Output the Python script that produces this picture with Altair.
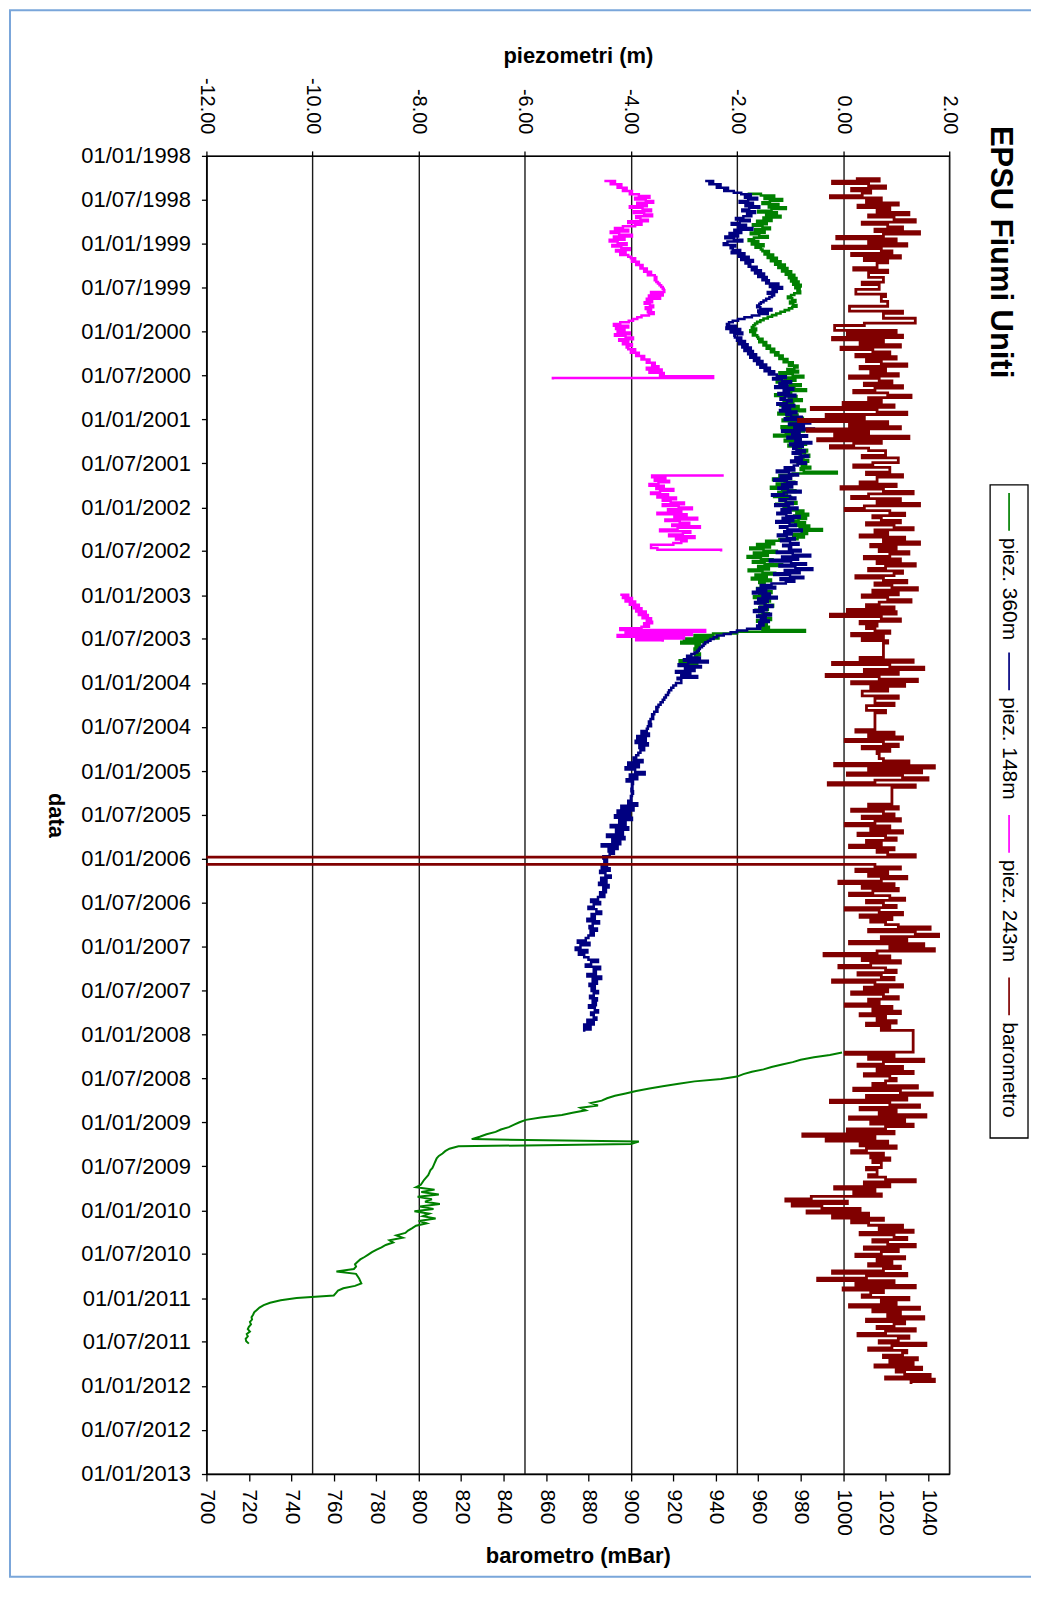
import altair as alt
import pandas as pd

FONT = "Liberation Sans"
W, H = 745, 1322

TITLE = "EPSU Fiumi Uniti"
SERIES = ["piez. 360m", "piez. 148m", "piez. 243m", "barometro"]
COLORS = ["#008000", "#000080", "#FF00FF", "#800000"]
PIEZO_TICKS = [-12, -10, -8, -6, -4, -2, 0, 2]
BARO_TICKS = [700, 720, 740, 760, 780, 800, 820, 840, 860, 880, 900, 920, 940,
              960, 980, 1000, 1020, 1040]
DATE_TICKS = ["1998-01", "1998-07", "1999-01", "1999-07", "2000-01", "2000-07",
              "2001-01", "2001-07", "2002-01", "2002-07", "2003-01", "2003-07",
              "2004-01", "2004-07", "2005-01", "2005-07", "2006-01", "2006-07",
              "2007-01", "2007-07", "2008-01", "2008-07", "2009-01", "2009-07",
              "2010-01", "2010-07", "2011-01", "2011-07", "2012-01", "2012-07",
              "2013-01"]

# ---------------- barometro (mBar), a reading every 10 days; None = no reading
baro_start = "1998-04-06"
baro_step = 10
baro_values = [
    1006, 1017, 995, 1012, 1020, 1004, 1013, 1009, 994,
    1018, 1011, 1026, 1007, 1022, 1016, 1031, 1012, 1024, 1034, 1009, 1021, 1028, 1015, 1036, 1019, 997, 1025,
    1012, 1030, 995, 1018, 1023, 1004, 1027, 1010, 1021,
    None, 1016, 1005, 1021, None, 1012, None, 1019, 1009, None, 1017, None, 1006, 1020, None, 1018, None, 1021,
    None, 1003, 1028, None, 1019, None, 1034, 1010, None,
    996, 1025, 1002, 1028, 995, 1019, 1008, 1027, 999,
    1014, 1022, 1006, 1025, 1011, 1018, 1030, 1008, 1020, 1013, 1026, 1003, 1017, 1023, 1010, 1028, 1015, 1005,
    1021, 1032, 1012, 1018,
    1000, 1024, 985, 1016, 1030, 992, 1010, 979, 1021, 1003, 1027, 983, 1012, 996, 1031, 988, 1018, 1005, 994,
    1012, None, 1020, 1009, None, 1026, 1014, 1005, None, 1022, 1011, 1028, None, 1016,
    1008, 1025, 999, 1019, 1033, 1012, 1004, 1027, 1016, 1036, 1010, 1001, 1022, 1029, 1014,
    1018, 1027, 1011, 1024, 1033, 1015, 1021, 1008, 1029, 1019, 1036, 1013, 1025, 1017, 1031, 1022, 1010, 1027,
    1016, 1034, 1020, 1012, 1028, 1024, 1006, 1019, 1030, 1015, 1023, 1035, 1014, 1026, 1009, 1021, 1032, 1017,
    1011, 1024,
    1002, 1025, 994, 1018, 1027, 1008, 1016, 1011,
    1015, 1022, 1004, 1019, 1009, 1021, 1019,
    None, None, None, None, 1019,
    1008, 1033, 995, 1022, 1038, 1010, 1026, 992, 1017, 1035, 1004, 1029, 1013,
    1021, None, 1009, 1026, None, 1015, 1024, None, 1011, 1020, 1015,
    None, None, None, None, None, 1015,
    1006, 1024, 1012, 1028, 1001, 1019, 1026, 1009, 1022, 1016, None,
    1017, 1019,
    1031, 996, 1043, 1012, 1037, 1002, 1028, 1040, 1015, 993, 1034,
    1023, None, None, None, None, None, 1023,
    1012, 1026, 1004, 1019, 1024, 1009, 1027, 1015, 1001, 1022, 1013, 1028, 1007, 1020, 1025, 1011, 1018, 1003,
    1024, 1016, 1021,
    1034, None, None, 0,
    1015, 1027, 1006, 1021, 1012, 1030, 1018, 998, 1024, 1009, 1026, 1014, 1003, 1022, 1029, 1011, 1019, 1025,
    1001, 1017, 1028, 1008, 1023, 1013, 1020,
    1026, 1041, 1012, 1034, 1045, 1018, 1030, 1003, 1038, 1022, 1043,
    1016, 991, 1022, 1009, 1027, 1013, 998, 1020, 1025, 1007, 1018, 1024, 995, 1015, 1028, 1010, 1021, 1004,
    1019, 1026, 1012, 1017, 1001, 1023, 1014, 1027, 1008, 1020, 1016, 1025, 1011, 1022, 1018,
    1033, None, None, None, None, None, None, None, 1033,
    1001, 1024, 1012, 1038, 1019, 1007, 1028, 1016, 1033, 1010, 1022, 1025, 1020,
    1014, 1035, 1005, 1027, 1042, 1011, 1030, 994, 1022, 1036, 1008, 1025, 1017, 1039, 1003, 1029, 1013, 1033,
    1020, 1002, 1024, 981, 1015, 992, 1021, 1008, 1025, 1011, 1004, 1019, 1013, 1022,
    1014, None, 1018, 1011, None, 1016, 1012, 1020,
    1034, 1010, 1022, 996, 1015, 1005, 1018, 985, 973, 1002, 976, 990, 1008, 983, 1012, 995, 1019, 1004,
    1012, 1028, 1017, 1033, 1008, 1024, 1030, 1014, 1021, 1034, 1010, 1026, 1018, 1006, 1029, 1016, 1023, 1012,
    1027, 1019,
    995, 1030, 1011, 988, 1024, 1006, 1034, 1000, 1019, 1013,
    1009, 1031, 1018, 1025, 1003, 1036, 1014, 1027, 1021, 1038, 1011, 1029, 1024, 1016, 1034, 1020, 1007, 1031,
    1026, 1017, 1039, 1023, 1012, 1030, 1028, 1019, 1035, 1022, 1033, 1015, 1037, 1025, 1029, 1041, 1020, 1043,
    1032,
]

# ---------------- piez. 360m (m)
green1_start, green1_step = "1998-06-08", 7
green1_values = [
    -1.80, -1.55, -1.30, -1.48, -1.15, -1.38, -1.52, -1.22, -1.40, -1.08, -1.35, -1.60, -1.25, -1.45, -1.18,
    -1.50, -1.35, -1.62, -1.44, -1.70, -1.52, -1.38, -1.66, -1.48, -1.74, -1.58, -1.42, -1.68, -1.78, -1.60,
    -1.72, -1.50, -1.65, -1.55,
    -1.52, -1.40, -1.48, -1.32, -1.42, -1.25, -1.36, -1.18, -1.28, -1.10, -1.22, -1.05, -1.15, -0.98, -1.08,
    -0.92, -1.02, -0.88, -0.98, -0.84, -0.94, -0.80, -0.90, -0.82, -0.86, -0.81,
    -0.92, -0.98, -1.04, -0.96, -0.90, -1.00, -0.94, -0.88, -0.96, -1.02,
    -1.10, -1.18, -1.26, -1.34, -1.42, -1.50, -1.56, -1.62, -1.66, -1.69,
    -1.72, -1.64, -1.75, -1.66, -1.70, -1.62,
    -1.60, -1.52, -1.58, -1.45, -1.50, -1.38, -1.44, -1.30, -1.36, -1.22, -1.28, -1.14, -1.20, -1.05, -1.12,
    -0.95, -1.02, -0.86, -0.92,
    -1.05, -0.85, -1.20, -0.95, -0.75, -1.10, -0.90, -1.25, -1.00, -0.80, -1.15, -0.92, -0.70, -1.08, -0.98,
    -1.28, -0.88, -1.02, -0.78, -1.12, -0.94, -1.18, -0.84, -1.04, -0.72, -0.96, -1.22, -0.86, -1.06, -0.76,
    -1.14, -0.90, -1.00, -0.82, -1.16, -0.93, -0.74, -1.08, -0.88, -1.30, -0.97, -0.80, -1.10, -0.91, -0.70,
    -1.03, -0.85,
    -0.80, -0.68, -0.85, -0.72, -0.64, -0.82, -0.75, -0.66, -0.86, -0.70, -0.78, -0.62, -0.80, -0.74,
    -0.12,
    -0.95, -1.20, -1.05, -1.32, -1.10, -0.92, -1.25, -1.00, -1.36, -1.15, -0.90, -1.22, -1.06, -1.30, -0.98,
    -1.18, -1.08, -0.88, -1.26, -1.02, -1.12,
    -0.95, -0.75, -0.88, -0.66, -0.92, -0.70, -0.84, -1.00, -0.72, -0.90, -0.64, -0.82, -0.40, -0.78, -0.68,
    -0.94, -0.74, -0.86,
    -1.20, -1.45, -1.30, -1.62, -1.38, -1.75, -1.50, -1.25, -1.68, -1.42, -1.80, -1.55, -1.33, -1.70, -1.48,
    -1.15, -1.60, -1.40, -1.78, -1.52, -1.28, -1.65, -1.44, -1.72, -1.36, -1.58, -1.48,
    -1.55, -1.40, -1.62, -1.48, -1.35, -1.58, -1.45, -1.68, -1.50, -1.38, -1.60, -1.46, -1.32, -1.56, -1.42,
    -1.65, -1.52, -1.40, -1.58, -1.48, -1.36, -1.62, -1.50, -1.44, -1.56, -1.40, -1.52,
    -0.72,
    -2.00, -2.45, -2.80, -2.35, -3.00, -2.55, -3.05, -2.70,
    -2.78, -2.72, -2.80, -2.74, -2.76, -2.70, -2.79, -2.75,
    -2.90, -3.08, -2.75, -3.02, -2.95,
]
green2_start, green2_step = "2008-03-16", 10
green2_values = [
    -0.02, -0.25, -0.55, -0.80, -0.95, -1.15, -1.35, -1.50, -1.72, -1.88,
    -2.00, -2.30, -2.80, -3.10, -3.40, -3.65, -3.90, -4.10, -4.30, -4.45,
    -4.55, -4.75, -4.62, -4.95, -4.85, -5.10, -5.30, -5.70, -5.98, -6.10,
    -6.20, -6.30, -6.45, -6.55, -6.72, -6.85, -7.00, -3.85, -4.00, -7.25,
    -7.42, -7.50, -7.55, -7.62, -7.66, -7.68, -7.70, -7.72, -7.74, -7.78,
    -7.80, -7.82, -7.86, -7.90, -7.93, -7.96, -8.05, -7.70, -7.95, -7.62,
    -8.02, -7.75, -7.88, -7.60, -7.98, -7.72, -8.08, -7.80, -7.92, -7.68,
    -8.00, -7.85, -8.05, -8.12, -8.20, -8.25, -8.42, -8.30, -8.55, -8.48,
    -8.62, -8.70, -8.80, -8.88, -8.95, -9.02, -9.10, -9.15, -9.20, -9.18,
    -9.22, -9.55, -9.18, -9.15, -9.12, -9.10, -9.08, -9.20, -9.42, -9.52,
    -9.56, -9.60, -10.30, -10.60, -10.80, -10.92, -11.00, -11.05, -11.10, -11.12,
    -11.15, -11.14, -11.18, -11.16, -11.20, -11.22, -11.18, -11.24, -11.22, -11.26,
    -11.25, -11.20,
]

# ---------------- piez. 148m (m)
blue1_start, blue1_step = "1998-04-15", 7
blue1_values = [
    -2.60, -2.45, -2.52, -2.31, -2.38, -2.17, -2.24, -2.06,
    -1.92, -1.74, -1.85, -1.62, -1.79, -1.95, -1.70, -1.84, -1.58, -1.77, -1.90, -1.66, -1.81, -1.73,
    -1.88, -2.02, -1.76, -1.95, -2.10, -1.83, -1.98, -1.71, -2.05, -1.92,
    -2.14, -1.98, -2.22, -2.06, -1.90, -2.18, -2.25, -2.03, -2.12,
    -2.08, -1.94, -2.10, -1.86, -1.97, -1.78, -1.92, -1.70, -1.84, -1.75,
    -1.78, -1.63, -1.72, -1.55, -1.66, -1.49, -1.60, -1.44, -1.52, -1.40,
    -1.45, -1.22, -1.38, -1.15, -1.33, -1.25, -1.42, -1.30,
    -1.34, -1.39, -1.45, -1.50, -1.55, -1.58, -1.62, -1.56,
    -1.35, -1.60, -1.42, -1.58,
    -1.72, -1.86, -1.98, -2.08, -2.15, -2.19,
    -2.02, -2.20, -1.94, -2.12, -1.90, -2.05,
    -2.04, -1.92, -2.00, -1.85, -1.96, -1.80, -1.90, -1.74, -1.86, -1.70, -1.79, -1.64, -1.75, -1.58, -1.68,
    -1.52, -1.62, -1.45, -1.56, -1.38, -1.48, -1.30, -1.40,
    -1.25, -1.08, -1.32, -1.15, -0.98, -1.20, -1.05, -1.28, -0.94, -1.12, -1.02, -1.22, -0.90, -1.10, -1.18,
    -0.97, -1.06, -1.24, -0.92, -1.14, -1.00, -1.19, -0.88, -1.07,
    -0.98, -0.78, -1.10, -0.86, -0.62, -1.02, -0.74, -0.92, -0.55, -1.15, -0.82, -0.96, -0.68, -1.05, -0.80,
    -0.90, -0.60, -1.00, -0.76, -0.94,
    -0.88, -0.72, -0.95, -0.80, -0.66, -0.90, -0.78, -0.98, -0.70, -0.85, -0.93,
    -1.10, -0.92, -1.25, -1.02, -0.85, -1.18, -0.98, -1.30, -1.06, -0.88, -1.15, -0.96, -1.22, -1.04, -0.80,
    -1.12, -1.34, -1.00, -0.90, -1.20, -1.08, -0.95, -1.28, -1.03, -0.86, -1.16, -0.99, -1.24, -1.07, -0.82,
    -1.14, -0.94, -1.26, -1.01, -0.89, -1.19, -1.05, -0.78, -1.11, -0.97, -1.23, -1.06, -0.91, -1.17, -1.00,
    -0.84, -1.13, -0.98,
    -1.02, -0.80, -1.25, -0.95, -0.62, -1.15, -0.85, -1.38, -0.98, -0.70, -1.20, -0.90, -0.58, -1.10, -0.82,
    -1.30, -1.00, -0.75, -1.18, -0.92, -1.08,
    -1.35, -1.55, -1.28, -1.62, -1.45, -1.70, -1.38, -1.52, -1.25, -1.60, -1.42, -1.66, -1.48, -1.33, -1.58,
    -1.44, -1.68, -1.50, -1.36, -1.62, -1.46, -1.55, -1.40, -1.58,
    -1.50, -1.62, -1.56, -1.81, -2.00, -2.12, -2.25, -2.38,
    -2.44, -2.50, -2.55, -2.60, -2.63, -2.66, -2.70, -2.72, -2.75, -2.80, -2.86, -2.94,
    -2.70, -3.00, -2.55, -2.92, -3.10, -2.68, -2.98, -2.80, -3.15, -2.88, -3.05, -2.75, -3.12,
]
blue2_start, blue2_step = "2004-01-01", 10
blue2_values = [
    -3.05, -3.15,
    -3.20, -3.24, -3.28, -3.30, -3.34, -3.37, -3.40, -3.44,
    -3.48, -3.52, -3.50, -3.56, -3.60, -3.58, -3.63, -3.66, -3.62, -3.68, -3.70,
    -3.80, -3.66, -3.88, -3.72, -3.91, -3.68, -3.84, -3.75,
    -3.82, -3.86, -3.90,
    -3.95, -3.78, -4.05, -3.85, -4.10, -3.92, -3.74, -4.02, -3.88, -4.08, -3.96,
    -3.98, -3.97, -3.99, -3.96, -3.98, -4.00, -3.99,
    -4.05, -3.88, -4.18, -3.95, -4.25, -4.02, -4.30, -3.98, -4.22, -4.10, -4.38, -4.05, -4.28, -4.15, -4.45,
    -4.12, -4.35, -4.20, -4.55, -4.25, -4.42, -4.32,
    -4.40, -4.52, -4.45, -4.50,
    -4.45, -4.55, -4.40, -4.58, -4.48, -4.38, -4.56, -4.46, -4.60, -4.42, -4.52, -4.47, -4.58, -4.50,
    -4.62, -4.75, -4.58, -4.70, -4.80, -4.65, -4.56, -4.74, -4.68, -4.82, -4.60, -4.72, -4.78, -4.64, -4.76,
    -4.70, -4.80,
    -4.85, -5.00, -4.78, -4.95, -5.04, -4.82, -4.98, -4.88,
    -4.80, -4.62, -4.75, -4.85, -4.58, -4.70, -4.66, -4.82, -4.56, -4.72, -4.64, -4.78,
    -4.68, -4.74, -4.62, -4.70, -4.77, -4.64, -4.72, -4.66, -4.79, -4.68, -4.62, -4.75, -4.70, -4.65,
    -4.82, -4.70, -4.88, -4.76, -4.88,
]

# ---------------- piez. 243m (m)
pink1_start, pink1_step = "1998-04-15", 7
pink1_values = [
    -4.50, -4.30, -4.38, -4.18, -4.25, -4.08, -4.15, -3.98, -4.02,
    -3.85, -3.65, -3.92, -3.72, -3.58, -3.88, -3.70, -4.02, -3.78, -3.62, -3.95, -3.75, -3.60, -3.90, -3.82,
    -3.68, -4.05, -3.80, -3.92,
    -4.15, -4.30, -4.05, -4.38, -4.22, -3.98, -4.32, -4.12, -4.40, -4.25, -4.08, -4.35, -4.18, -4.02, -4.28,
    -4.10, -4.20, -4.05,
    -4.00, -3.92, -3.98, -3.85, -3.90, -3.78, -3.82, -3.70, -3.75, -3.62, -3.68, -3.55, -3.52,
    -3.55, -3.52, -3.49, -3.46, -3.43, -3.40, -3.38, -3.37,
    -3.62, -3.40, -3.66, -3.45,
    -3.70, -3.60, -3.74, -3.64, -3.58, -3.72, -3.62, -3.68, -3.57, -3.66,
    -3.80, -3.88, -3.96, -4.04,
    -4.20, -4.32, -4.05, -4.28, -4.12,
    -4.25, -4.02, -4.30, -4.10, -3.96, -4.22, -4.05, -4.15, -3.98, -4.08,
    -4.05, -3.92, -4.00, -3.85, -3.90, -3.75, -3.80, -3.65, -3.70, -3.55, -3.60, -3.48,
    -3.70, -3.42, -3.65, -3.38, -3.45,
    -2.45, -5.47,
]
pink2_start, pink2_step = "2001-08-22", 7
pink2_values = [
    -2.25,
    -3.60, -3.35, -3.55, -3.28, -3.48, -3.65, -3.38, -3.52, -3.20, -3.45, -3.62, -3.30, -3.50, -3.15, -3.40,
    -3.25, -3.00, -3.40, -3.10, -2.85, -3.30, -3.05, -3.50, -2.95, -3.18, -2.75, -3.35, -3.08, -2.90, -3.22,
    -2.70, -3.12, -3.45, -2.88, -3.02, -3.28, -2.80, -3.15, -2.95, -3.05,
    -3.20, None, -3.62, -3.50, -2.30,
]
pink3_start, pink3_step = "2002-12-30", 7
pink3_values = [
    -4.20, -4.05, -4.15, -3.98, -4.10, -3.92, -4.02, -3.85, -3.95, -3.80, -3.90, -3.72, -3.85, -3.68, -3.78,
    -3.62, -3.70, -3.60,
    -3.75, -3.66, -3.80,
    -4.20, -2.60, -4.10, -2.85, -4.25, -3.00, -3.90, -3.40,
]

# ---------------- layout (pixels, relative to the plot area)
LEGEND_LINE_Y = [338, 498, 661, 824]
LEGEND_LINE_LEN = 38
LEGEND_TEXT_GAP = 45


def frame(runs):
    rows = []
    for seg, start, step, vals in runs:
        t0 = pd.Timestamp(start)
        for i, v in enumerate(vals):
            if v is None:
                continue
            rows.append({"seg": seg,
                         "date": (t0 + pd.Timedelta(days=step * i)).strftime("%Y-%m-%d"),
                         "value": v})
    df = pd.DataFrame(rows)
    df["idx"] = range(len(df))
    return df


green1_df = frame([("g1", green1_start, green1_step, green1_values)])
green2_df = frame([("g2", green2_start, green2_step, green2_values)])
blue_df = frame([("b1", blue1_start, blue1_step, blue1_values),
                 ("b1", blue2_start, blue2_step, blue2_values)])
pink_df = frame([("p1", pink1_start, pink1_step, pink1_values),
                 ("p2", pink2_start, pink2_step, pink2_values),
                 ("p3", pink3_start, pink3_step, pink3_values)])
baro_df = frame([("r1", baro_start, baro_step, baro_values)])


def dt(s):
    y, m = s.split("-")
    return alt.DateTime(year=int(y), month=int(m), date=1, utc=True)


y_enc = alt.Y(
    "date:T",
    scale=alt.Scale(type="utc", domain=[dt("1998-01"), dt("2013-01")], reverse=True, nice=False),
    axis=alt.Axis(
        values=[dt(s) for s in DATE_TICKS],
        labelExpr="utcFormat(datum.value, '%d/%m/%Y')",
        title="data", titleAngle=90, titleX=-151, titleY=H / 2, titleAlign="center",
        titleBaseline="middle", titleFontSize=22, titleFontWeight="bold",
        labelFontSize=22, labelPadding=11, tickSize=5, grid=False,
        labelFlush=False, labelOverlap=False,
        domainColor="black", tickColor="black", labelColor="black", titleColor="black",
        domainWidth=1.3, tickWidth=1.3,
    ),
)

x_piezo = alt.X(
    "value:Q",
    scale=alt.Scale(domain=[-12, 2], nice=False, zero=False),
    axis=alt.Axis(
        orient="top", values=PIEZO_TICKS,
        labelExpr="(datum.value < 0 ? '-' : '') + format(abs(datum.value), '.2f')",
        labelAngle=90, labelAlign="right", labelBaseline="middle",
        labelFontSize=20, labelPadding=17, tickSize=5,
        labelFlush=False, labelOverlap=False,
        grid=True, gridColor="#1a1a1a", gridWidth=1.4,
        title="piezometri (m)", titleFontSize=22, titleFontWeight="bold",
        titleX=W / 2, titleY=-101, titleAlign="center", titleBaseline="middle",
        domainColor="black", tickColor="black", labelColor="black", titleColor="black",
        domainWidth=1.3, tickWidth=1.3,
    ),
)

x_baro = alt.X(
    "value:Q",
    scale=alt.Scale(domain=[700, 1050], nice=False, zero=False),
    axis=alt.Axis(
        orient="bottom", values=BARO_TICKS, format="d",
        labelAngle=90, labelAlign="left", labelBaseline="middle",
        labelFontSize=21, labelPadding=8, tickSize=7,
        labelFlush=False, labelOverlap=False, grid=False,
        title="barometro (mBar)", titleFontSize=22, titleFontWeight="bold",
        titleX=W / 2, titleY=82, titleAlign="center", titleBaseline="middle",
        domainColor="black", tickColor="black", labelColor="black", titleColor="black",
        domainWidth=1.3, tickWidth=1.3,
    ),
)


def line(df, color, x_enc, width, interp):
    return alt.Chart(df).mark_line(color=color, strokeWidth=width, clip=True,
                                   interpolate=interp).encode(
        x=x_enc, y=y_enc, detail="seg:N", order="idx:Q"
    )


piezo = alt.layer(
    line(green1_df, COLORS[0], x_piezo, 2.6, "step-after"),
    line(green2_df, COLORS[0], x_piezo, 2.0, "linear"),
    line(blue_df, COLORS[1], x_piezo, 2.5, "step-after"),
    line(pink_df, COLORS[2], x_piezo, 2.5, "step-after"),
)
baro = line(baro_df, COLORS[3], x_baro, 2.8, "step-after")

one = pd.DataFrame({"t": [TITLE]})

border = alt.Chart(one).mark_rect(fill=None, stroke="#7aa6da", strokeWidth=2).encode(
    x=alt.value(-197), x2=alt.value(W + 120), y=alt.value(-146), y2=alt.value(H + 103)
)
title = alt.Chart(one).mark_text(
    angle=90, align="left", baseline="middle", fontSize=31, fontWeight="bold",
    font=FONT, color="black"
).encode(text="t:N", x=alt.value(W + 51), y=alt.value(-30))

legend_box = alt.Chart(one).mark_rect(fill="white", stroke="black", strokeWidth=1.3).encode(
    x=alt.value(W + 41), x2=alt.value(W + 79), y=alt.value(330), y2=alt.value(985)
)

legend_layers = []
for name, color, y0 in zip(SERIES, COLORS, LEGEND_LINE_Y):
    d = pd.DataFrame({"label": [name]})
    legend_layers.append(
        alt.Chart(d).mark_rule(color=color, strokeWidth=1.7).encode(
            x=alt.value(W + 60), y=alt.value(y0), y2=alt.value(y0 + LEGEND_LINE_LEN)
        )
    )
    legend_layers.append(
        alt.Chart(d).mark_text(angle=90, align="left", baseline="middle", fontSize=21,
                               font=FONT, color="black").encode(
            text="label:N", x=alt.value(W + 60), y=alt.value(y0 + LEGEND_TEXT_GAP)
        )
    )

chart = (
    alt.layer(border, piezo, baro, title, legend_box, *legend_layers)
    .resolve_scale(x="independent")
    .properties(
        width=W, height=H,
        autosize=alt.AutoSizeParams(type="none"),
        padding={"left": 199, "top": 146, "right": 82, "bottom": 105},
    )
    .configure(font=FONT)
    .configure_view(stroke="black", strokeWidth=1.3)
)

chart.save("out.html", embed_options={"renderer": "svg", "actions": False})
